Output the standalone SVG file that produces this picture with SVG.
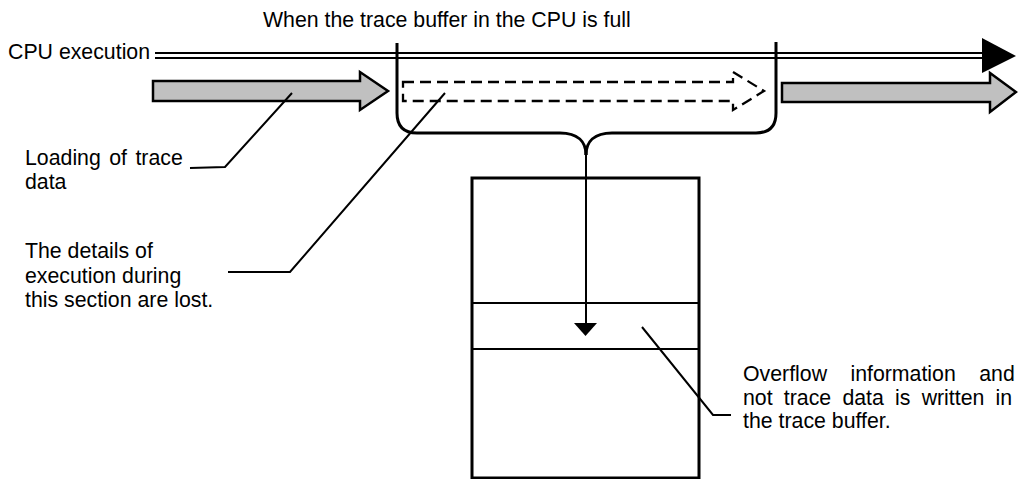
<svg xmlns="http://www.w3.org/2000/svg" width="1018" height="479" viewBox="0 0 1018 479">
<style>
text{font-family:"Liberation Sans",Arial,sans-serif;font-size:21.3px;fill:#000}
.thick{fill:none;stroke:#000;stroke-width:3}
.thin{fill:none;stroke:#000;stroke-width:2}
.dbl{fill:none;stroke:#000;stroke-width:2}
.gray{fill:#C0C0C0;stroke:#000;stroke-width:2.5}
.dash{fill:none;stroke:#000;stroke-width:2.3;stroke-dasharray:11 6}
</style>
<rect width="1018" height="479" fill="#fff"/>
<g id="title"><text x="263" y="27">When the trace buffer in the CPU is full</text></g>
<g id="cpu-execution">
<text x="8" y="59">CPU execution</text>
<line class="dbl" x1="155" y1="53" x2="985" y2="53"/>
<line class="dbl" x1="155" y1="58" x2="985" y2="58"/>
<polygon points="982,38 1016,56 982,73" fill="#000"/>
</g>
<g id="load-arrow-left"><polygon class="gray" points="153,81 360,81 360,72 388,91 360,110 360,101 153,101"/></g>
<g id="load-arrow-right"><polygon class="gray" points="782,83 990,83 990,73 1016,92 990,112 990,102 782,102"/></g>
<g id="lost-arrow"><polygon class="dash" points="403,82 733,82 733,72 764,91 733,110 733,101 403,101"/></g>
<g id="full-section">
<path class="thick" d="M397,43 V113 Q397,133 417,133 H560 C578,133 586,142 586,155"/>
<path class="thick" d="M776,42 V113 Q776,133 756,133 H612 C594,133 586,142 586,155"/>
</g>
<g id="trace-buffer">
<rect class="thick" x="472" y="178" width="227" height="300"/>
<line class="thin" x1="472" y1="303" x2="699" y2="303"/>
<line class="thin" x1="472" y1="349" x2="699" y2="349"/>
</g>
<g id="label-loading"><text x="25" y="165" word-spacing="2.5">Loading of trace</text><text x="25" y="189">data</text></g>
<g id="label-lost"><text x="25" y="258">The details of</text><text x="25" y="283">execution during</text><text x="25" y="307">this section are lost.</text></g>
<g id="label-overflow">
<text x="743" y="381" word-spacing="17.5">Overflow information and</text>
<text x="743" y="405" word-spacing="5.3">not trace data is written in</text>
<text x="743" y="428">the trace buffer.</text>
</g>
<g id="connectors">
<line class="thin" x1="586" y1="155" x2="586" y2="325"/>
<polygon points="574,323 597,323 585.5,336" fill="#000"/>
<polyline class="thin" points="292,93 225,167 190,168"/>
<polyline class="thin" points="445,93 290,272 228,272"/>
<polyline class="thin" points="642,327 713,415 731,415"/>
</g>
</svg>
